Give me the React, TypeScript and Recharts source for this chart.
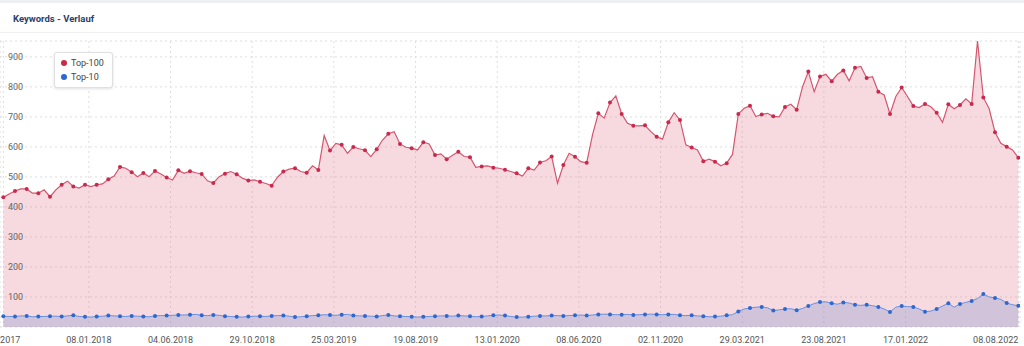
import { AreaChart, Area, XAxis, YAxis, CartesianGrid, Legend } from 'recharts';

// values at the marker points (every 3 weeks, 07.08.2017 - 08.08.2022)
const top100Markers = [
  432, 453, 460, 446, 434, 474, 468, 474, 474, 492,
  533, 516, 513, 520, 498, 522, 519, 510, 480, 511,
  509, 488, 484, 471, 518, 529, 514, 523, 588, 607,
  600, 589, 592, 644, 610, 596, 616, 573, 559, 584,
  566, 535, 531, 524, 512, 529, 548, 568, 540, 567,
  547, 712, 748, 710, 671, 672, 634, 682, 690, 598,
  552, 551, 546, 710, 737, 708, 702, 733, 724, 851,
  835, 819, 855, 864, 830, 784, 710, 798, 736, 743,
  714, 742, 740, 743, 765, 649, 601, 564,
];
// values between two markers
const top100Between = [
  443, 460, 446, 457, 457, 486, 463, 468, 477, 503,
  529, 501, 501, 510, 490, 512, 514, 487, 501, 518,
  496, 490, 478, 499, 526, 518, 537, 638, 612, 579,
  594, 568, 623, 651, 599, 590, 610, 577, 572, 568,
  532, 537, 529, 518, 503, 523, 554, 479, 579, 551,
  640, 696, 770, 679, 670, 651, 626, 714, 607, 590,
  559, 537, 575, 729, 701, 712, 700, 742, 800, 784,
  842, 842, 820, 868, 834, 773, 768, 768, 731, 734,
  682, 727, 760, 953, 727, 612, 590,
];
const top10Markers = [
  36, 35, 37, 35, 36, 35, 39, 34, 35, 38,
  36, 37, 35, 37, 38, 40, 41, 39, 40, 36,
  34, 35, 36, 37, 38, 33, 36, 39, 40, 41,
  38, 37, 35, 40, 36, 34, 34, 36, 37, 38,
  36, 35, 39, 38, 33, 34, 37, 38, 37, 39,
  38, 42, 42, 41, 40, 42, 42, 42, 39, 39,
  36, 35, 39, 52, 63, 67, 55, 60, 56, 70,
  83, 79, 82, 74, 74, 67, 50, 70, 67, 51,
  60, 79, 77, 87, 110, 97, 80, 71,
];
const top10Between = [
  35, 37, 34, 35, 36, 37, 35, 33, 36, 37,
  35, 36, 34, 38, 39, 40, 42, 38, 39, 35,
  33, 36, 35, 38, 36, 34, 38, 41, 39, 42,
  37, 36, 38, 37, 35, 33, 35, 37, 36, 37,
  34, 37, 40, 35, 33, 36, 37, 38, 38, 40,
  40, 43, 41, 42, 41, 43, 41, 42, 38, 37,
  34, 36, 41, 60, 66, 64, 57, 61, 62, 78,
  84, 76, 80, 72, 71, 60, 66, 68, 60, 53,
  70, 66, 82, 95, 100, 92, 74,
];

// x ticks in days since 07.08.2017 (first label is cut in the original, only the year shows)
const tickDays = [0, 154, 301, 448, 595, 742, 889, 1036, 1183, 1330, 1477, 1624, 1827];
const tickLabels = [
  '2017', '08.01.2018', '04.06.2018', '29.10.2018', '25.03.2019', '19.08.2019',
  '13.01.2020', '08.06.2020', '02.11.2020', '29.03.2021', '23.08.2021', '17.01.2022', '08.08.2022',
];
const yTicks = [100, 200, 300, 400, 500, 600, 700, 800, 900];

const series = [
  { key: 'top100', name: 'Top-100', line: '#d4566f', dot: '#c8294d', fill: '#e07a8c', opacity: 0.28 },
  { key: 'top10', name: 'Top-10', line: '#6890e0', dot: '#2b68cf', fill: '#7b8fd0', opacity: 0.3 },
];

const FONT = 'Roboto, "Liberation Sans", Arial, sans-serif';

const rows: { day: number; top100: number; top10: number; marker: boolean }[] = [];
top100Markers.forEach((v, k) => {
  rows.push({ day: k * 21, top100: v, top10: top10Markers[k], marker: true });
  if (k < top100Between.length) {
    rows.push({ day: k * 21 + 10.5, top100: top100Between[k], top10: top10Between[k], marker: false });
  }
});

const makeDot = (color: string) => (props: any) => {
  const { cx, cy, index, payload } = props;
  if (!payload || !payload.marker) return <g key={`e${index}`} />;
  return <circle key={`d${index}`} cx={cx} cy={cy} r={2} fill={color} />;
};

const XTick = (props: any) => {
  const { x, y, payload } = props;
  const i = tickDays.indexOf(payload.value);
  let anchor: 'middle' | 'end' = 'middle';
  let tx = x;
  if (i === 0) {
    anchor = 'end';
    tx = x + 17;
  } else if (i === tickDays.length - 1) {
    anchor = 'end';
  }
  return (
    <text x={tx} y={y} dy={14} textAnchor={anchor} fontSize={9} fill="#555" fontFamily={FONT}>
      {tickLabels[i]}
    </text>
  );
};

const YTick = (props: any) => {
  const { y, payload } = props;
  return (
    <text x={8} y={y} dy={3} textAnchor="start" fontSize={9} fill="#666" fontFamily={FONT}>
      {payload.value}
    </text>
  );
};

const renderLegend = () => (
  <div
    style={{
      background: '#fff',
      border: '1px solid #e0e0e0',
      borderRadius: 3,
      boxShadow: '0 1px 3px rgba(0,0,0,0.12)',
      padding: '3px 8px 3px 6px',
      fontSize: 9,
      lineHeight: '14px',
      color: '#444',
      fontFamily: FONT,
    }}
  >
    {series.map((s) => (
      <div key={s.key} style={{ display: 'flex', alignItems: 'center' }}>
        <span style={{ width: 6, height: 6, borderRadius: 3, background: s.dot, marginRight: 4 }} />
        {s.name}
      </div>
    ))}
  </div>
);

export default function App() {
  return (
    <div style={{ position: 'absolute', left: 0, top: 0, width: 1024, height: 346, background: '#fff', overflow: 'hidden', fontFamily: FONT }}>
      <div style={{ position: 'absolute', left: 0, top: 0, width: 1024, height: 3, background: '#eef0f2' }} />
      <div style={{ position: 'absolute', left: 13, top: 13, fontSize: 9.5, lineHeight: '11px', fontWeight: 700, color: '#2b3f6b' }}>
        Keywords - Verlauf
      </div>
      <div style={{ position: 'absolute', left: 0, top: 32, width: 1024, height: 1, background: '#f0f0f0' }} />
      <div style={{ position: 'absolute', left: 0, top: 0 }}>
        <AreaChart width={1024} height={346} data={rows} margin={{ top: 41, right: 4, bottom: 0, left: -1 }}>
          <CartesianGrid strokeDasharray="2 3" stroke="#dedede" />
          <XAxis
            dataKey="day"
            type="number"
            domain={[-6, 1830]}
            allowDataOverflow
            ticks={tickDays}
            interval={0}
            tickLine={false}
            axisLine={false}
            tickSize={0}
            height={19}
            tick={(p: any) => <XTick {...p} />}
          />
          <Area
            type="linear"
            dataKey="top100"
            name="Top-100"
            stroke={series[0].line}
            strokeWidth={1.2}
            fill={series[0].fill}
            fillOpacity={series[0].opacity}
            dot={makeDot(series[0].dot)}
            activeDot={false}
            isAnimationActive={false}
          />
          <Area
            type="linear"
            dataKey="top10"
            name="Top-10"
            stroke={series[1].line}
            strokeWidth={1}
            fill={series[1].fill}
            fillOpacity={series[1].opacity}
            dot={makeDot(series[1].dot)}
            activeDot={false}
            isAnimationActive={false}
          />
          <YAxis
            type="number"
            domain={[0, 'dataMax']}
            ticks={yTicks}
            interval={0}
            width={1}
            tickLine={false}
            axisLine={false}
            tick={(p: any) => <YTick {...p} />}
          />
          <Legend
            verticalAlign="middle"
            layout="horizontal"
            content={renderLegend}
            wrapperStyle={{ top: 52, left: 54, width: 'auto', height: 'auto' }}
          />
        </AreaChart>
      </div>
    </div>
  );
}
